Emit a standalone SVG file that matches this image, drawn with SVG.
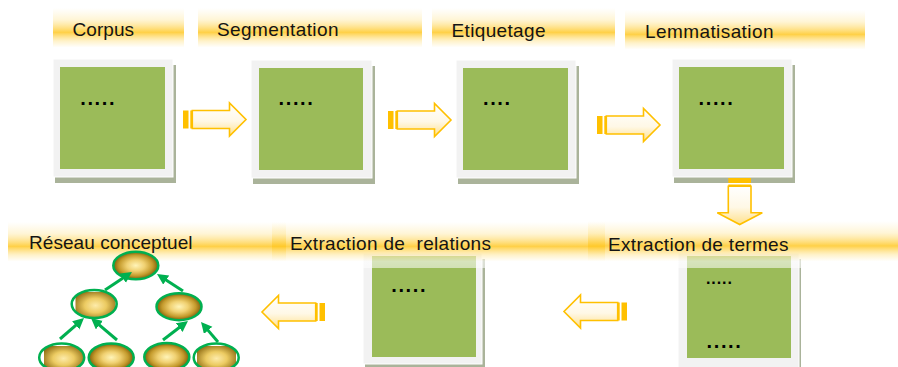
<svg xmlns="http://www.w3.org/2000/svg" width="898" height="367" viewBox="0 0 898 367">
  <style>
    .lbl { font-family: "Liberation Sans", Arial, sans-serif; font-size: 19px; fill: #141414; white-space: pre; }
    .dots { font-family: "Liberation Sans", Arial, sans-serif; font-weight: bold; font-size: 20px; letter-spacing: 1.6px; fill: #000; }
    .dots-sm { font-family: "Liberation Sans", Arial, sans-serif; font-weight: bold; font-size: 16px; letter-spacing: 0.95px; fill: #000; }
    .band { fill: url(#band); }
    .shadow { fill: #aab39a; }
    .frame { fill: #f2f2f2; stroke: #ffffff; stroke-width: 1; }
    .page { fill: #9bbb59; }
    .concept { stroke: #00b050; stroke-width: 2.5; }
    .rel { stroke: #00b050; stroke-width: 3; fill: none; marker-end: url(#head); }
  </style>
  <defs>
    <!-- soft golden header band -->
    <linearGradient id="band" x1="0" y1="0" x2="0" y2="1">
      <stop offset="0" stop-color="#ffe69a" stop-opacity="0"/>
      <stop offset="0.25" stop-color="#ffe38a" stop-opacity="0.35"/>
      <stop offset="0.53" stop-color="#ffc826" stop-opacity="0.85"/>
      <stop offset="0.72" stop-color="#ffeaa8" stop-opacity="0.6"/>
      <stop offset="0.86" stop-color="#ffffff" stop-opacity="0.6"/>
      <stop offset="1" stop-color="#ffffff" stop-opacity="0.55"/>
    </linearGradient>
    <!-- block arrow fill -->
    <linearGradient id="arrowFill" x1="0" y1="0" x2="0" y2="1">
      <stop offset="0" stop-color="#ffffff"/>
      <stop offset="0.55" stop-color="#fff8e6"/>
      <stop offset="1" stop-color="#ffe08a"/>
    </linearGradient>
    <!-- concept bubble fill -->
    <radialGradient id="gold" cx="0.5" cy="0.5" r="0.5">
      <stop offset="0" stop-color="#fff4b8"/>
      <stop offset="0.4" stop-color="#f0d172"/>
      <stop offset="0.75" stop-color="#c49a2c"/>
      <stop offset="1" stop-color="#7d5e0c"/>
    </radialGradient>
    <radialGradient id="goldTile" cx="0.5" cy="0.5" r="0.6">
      <stop offset="0" stop-color="#fdebaa"/>
      <stop offset="0.45" stop-color="#eccb62"/>
      <stop offset="1" stop-color="#8a6710"/>
    </radialGradient>
    <clipPath id="clip-ml"><ellipse cx="94.2" cy="304" rx="22.5" ry="14"/></clipPath>
    <clipPath id="clip-b1"><ellipse cx="61.7" cy="357.5" rx="22.5" ry="14"/></clipPath>
    <clipPath id="clip-b4"><ellipse cx="216.2" cy="357.5" rx="22.5" ry="14"/></clipPath>
    <marker id="head" markerUnits="userSpaceOnUse" markerWidth="12" markerHeight="12" refX="3" refY="5.5" orient="auto">
      <path d="M0,0 L11,5.5 L0,11 Z" fill="#00b050"/>
    </marker>
    <!-- striped block arrow pointing right, tail at origin -->
    <g id="arrowR">
      <rect x="0" y="-9" width="5.5" height="18" fill="#ffc000"/>
      <rect x="7.3" y="-9" width="2" height="18" fill="#ffc000"/>
      <path d="M9.3,-9 H46.5 V-16.5 L63,0 L46.5,16.5 V9 H9.3 Z" fill="url(#arrowFill)" stroke="#ffc000" stroke-width="1.6"/>
    </g>
  </defs>

  <rect width="898" height="367" fill="#ffffff"/>

  <!-- top row -->
  <g id="node-corpus">
    <rect class="shadow" x="55" y="65" width="121" height="118"/>
    <rect class="frame" x="53" y="59" width="120" height="118"/>
    <rect class="page" x="60" y="67" width="105" height="102"/>
    <text class="dots" x="80.3" y="104.5">.....</text>
    <rect class="band" x="53" y="8" width="131" height="46"/>
    <text class="lbl" x="72.5" y="36" textLength="61.5">Corpus</text>
  </g>

  <g id="node-segmentation">
    <rect class="shadow" x="253" y="66" width="122" height="118"/>
    <rect class="frame" x="251" y="60" width="121" height="118"/>
    <rect class="page" x="259" y="68" width="104" height="102"/>
    <text class="dots" x="278.6" y="104.5">.....</text>
    <rect class="band" x="198" y="8" width="224" height="46"/>
    <text class="lbl" x="217" y="36" textLength="121.5">Segmentation</text>
  </g>

  <g id="node-etiquetage">
    <rect class="shadow" x="458" y="66" width="121" height="118"/>
    <rect class="frame" x="456" y="60" width="120" height="118"/>
    <rect class="page" x="463" y="68" width="105" height="102"/>
    <text class="dots" x="483" y="105">....</text>
    <rect class="band" x="432" y="8" width="183" height="46"/>
    <text class="lbl" x="451.5" y="37" textLength="94">Etiquetage</text>
  </g>

  <g id="node-lemmatisation">
    <rect class="shadow" x="674" y="65" width="121" height="118"/>
    <rect class="frame" x="672" y="59" width="120" height="118"/>
    <rect class="page" x="679" y="67" width="105" height="102"/>
    <text class="dots" x="698.6" y="104.5">.....</text>
    <rect class="band" x="625" y="10" width="240" height="46"/>
    <text class="lbl" x="645" y="38" textLength="128.5">Lemmatisation</text>
  </g>

  <!-- bottom row -->
  <g id="node-termes">
    <rect class="shadow" x="680" y="259" width="121" height="118"/>
    <rect class="frame" x="678" y="253" width="121" height="118"/>
    <rect class="page" x="687" y="256" width="104" height="102"/>
    <text class="dots-sm" x="705.9" y="284.4">.....</text>
    <text class="dots" x="706.6" y="348">.....</text>
    <rect class="band" x="588" y="221" width="310" height="47"/>
    <text class="lbl" x="608" y="251" textLength="180.5">Extraction de termes</text>
  </g>

  <g id="node-relations">
    <rect class="shadow" x="365" y="259" width="120" height="108"/>
    <rect class="frame" x="363" y="253" width="119" height="111"/>
    <rect class="page" x="372" y="256" width="104" height="101"/>
    <text class="dots" x="391.3" y="291.5">.....</text>
    <rect class="band" x="272" y="222" width="333" height="46"/>
    <text class="lbl" x="290" y="249.5" textLength="201">Extraction de  relations</text>
  </g>

  <g id="node-reseau">
    <rect class="band" x="8" y="222" width="278" height="46"/>
    <text class="lbl" x="29" y="249" textLength="163.5">Réseau conceptuel</text>

    <g id="concept-top">
      <ellipse class="concept" cx="135.8" cy="265.5" rx="22.5" ry="13.8" fill="url(#gold)"/>
    </g>
    <g id="concept-mid-left">
      <ellipse cx="94.2" cy="304" rx="22.5" ry="14" fill="#ffffff"/>
      <rect x="75.5" y="292" width="40" height="27" fill="url(#goldTile)" clip-path="url(#clip-ml)"/>
      <ellipse class="concept" cx="94.2" cy="304" rx="22.5" ry="14" fill="none"/>
    </g>
    <g id="concept-mid-right">
      <ellipse class="concept" cx="179" cy="306.7" rx="22.5" ry="13.5" fill="url(#gold)"/>
    </g>
    <g id="concept-b1">
      <ellipse cx="61.7" cy="357.5" rx="22.5" ry="14" fill="#ffffff"/>
      <rect x="44" y="346" width="39" height="25" fill="url(#goldTile)" clip-path="url(#clip-b1)"/>
      <ellipse class="concept" cx="61.7" cy="357.5" rx="22.5" ry="14" fill="none"/>
    </g>
    <g id="concept-b2">
      <ellipse class="concept" cx="111.2" cy="357.5" rx="22.5" ry="14" fill="url(#gold)"/>
    </g>
    <g id="concept-b3">
      <ellipse class="concept" cx="166.8" cy="357" rx="22.5" ry="14" fill="url(#gold)"/>
    </g>
    <g id="concept-b4">
      <ellipse cx="216.2" cy="357.5" rx="22.5" ry="14" fill="#ffffff"/>
      <rect x="197" y="346" width="39" height="25" fill="url(#goldTile)" clip-path="url(#clip-b4)"/>
      <ellipse class="concept" cx="216.2" cy="357.5" rx="22.5" ry="14" fill="none"/>
    </g>

    <g id="concept-links">
      <line class="rel" x1="105" y1="290" x2="125.3" y2="276.4"/>
      <line class="rel" x1="183" y1="291" x2="163.7" y2="278.4"/>
      <line class="rel" x1="60" y1="339" x2="78" y2="323.3"/>
      <line class="rel" x1="117" y1="340" x2="97.1" y2="323.2"/>
      <line class="rel" x1="163" y1="340" x2="181.6" y2="325.8"/>
      <line class="rel" x1="218" y1="342" x2="206.2" y2="328.1"/>
    </g>
  </g>

  <!-- process flow arrows -->
  <g id="connectors">
    <use href="#arrowR" transform="translate(183,119.5)"/>
    <use href="#arrowR" transform="translate(388,120)"/>
    <use href="#arrowR" transform="translate(597,125)"/>
    <g id="arrow-down">
      <rect x="728.3" y="178" width="22.7" height="5" fill="#ffc000"/>
      <rect x="728.3" y="184.5" width="22.7" height="1.8" fill="#ffc000"/>
      <path d="M728.3,186.3 V212.7 H717.3 L739.7,224.5 L762.3,212.7 H751 V186.3 Z" fill="url(#arrowFill)" stroke="#ffc000" stroke-width="1.6"/>
    </g>
    <use href="#arrowR" transform="translate(627,311.5) scale(-1,1)"/>
    <use href="#arrowR" transform="translate(325,312) scale(-1,1)"/>
  </g>
</svg>
